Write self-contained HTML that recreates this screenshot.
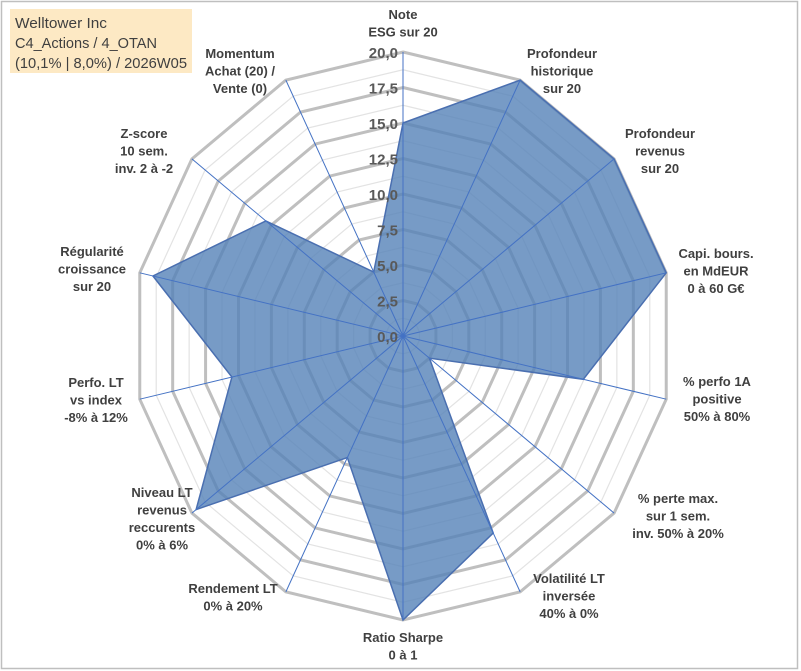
<!DOCTYPE html>
<html><head><meta charset="utf-8"><style>
body{margin:0;background:#fff}
svg{display:block}
text{font-family:"Liberation Sans",sans-serif}
</style></head><body>
<svg id="c" width="801" height="671">
<rect x="1.5" y="1.5" width="796" height="667" fill="#fff" stroke="#bfbfbf" stroke-width="1.5"/>
<g id="grid"></g>
<g id="series"></g>
<g id="spokes"></g>
<g id="ticks"></g>
<g id="labels"></g>
<g>
<rect x="10" y="9" width="182" height="64" fill="#fde9c4"/>
<text x="15" y="28" font-size="15" fill="#404040" textLength="92" lengthAdjust="spacingAndGlyphs">Welltower Inc</text>
<text x="15" y="48" font-size="15" fill="#404040" textLength="142" lengthAdjust="spacingAndGlyphs">C4_Actions / 4_OTAN</text>
<text x="15" y="68" font-size="15" fill="#404040" textLength="172" lengthAdjust="spacingAndGlyphs">(10,1% | 8,0%) / 2026W05</text>
</g>
</svg>
<script>
const categories=[["Note","ESG sur 20"],["Profondeur","historique","sur 20"],["Profondeur","revenus","sur 20"],["Capi. bours.","en MdEUR","0 à 60 G€"],["% perfo 1A","positive","50% à 80%"],["% perte max.","sur 1 sem.","inv. 50% à 20%"],["Volatilité LT","inversée","40% à 0%"],["Ratio Sharpe","0 à 1"],["Rendement LT","0% à 20%"],["Niveau LT","revenus","reccurents","0% à 6%"],["Perfo. LT","vs index","-8% à 12%"],["Régularité","croissance","sur 20"],["Z-score","10 sem.","inv. 2 à -2"],["Momentum","Achat (20) /","Vente (0)"]];
const values=[15,20,20,20,13.7,2.5,15.4,20,9.5,19.6,13,19,13,5];
const tickLabels=["0,0","2,5","5,0","7,5","10,0","12,5","15,0","17,5","20,0"];
const maxVal=20;
const cx=403,cy=336,Rx=270,Ry=284,N=categories.length;
const NS="http://www.w3.org/2000/svg";
function ang(i){return i*2*Math.PI/N;}
function pt(i,v){const f=v/maxVal;return [cx+f*Rx*Math.sin(ang(i)),cy-f*Ry*Math.cos(ang(i))];}
function mk(tag,attrs,parent){const e=document.createElementNS(NS,tag);for(const k in attrs)e.setAttribute(k,attrs[k]);parent.appendChild(e);return e;}
const grid=document.getElementById('grid');
for(let k=1;k<=16;k++){const v=k*maxVal/16;const pts=[];for(let i=0;i<N;i++)pts.push(pt(i,v).join(','));
const major=k%2==0;
const p=mk('polygon',{points:pts.join(' '),fill:'none',stroke:major?'#bfbfbf':'#e3e3e3','stroke-width':major?3:1.2},grid);

}
const ser=document.getElementById('series');
const sp=values.map((v,i)=>pt(i,v).join(',')).join(' ');
const poly=mk('polygon',{points:sp,fill:'#5582b8','fill-opacity':0.8,stroke:'#4a6fb0','stroke-width':1.5},ser);


const spokes=document.getElementById('spokes');
for(let i=0;i<N;i++){const e=pt(i,maxVal);
const l=mk('line',{x1:cx,y1:cy,x2:e[0],y2:e[1],stroke:'#4472c4','stroke-width':1},spokes);

}
const ticks=document.getElementById('ticks');
tickLabels.forEach((t,k)=>{const v=k*maxVal/(tickLabels.length-1);const p=pt(0,v);
const tx=mk('text',{x:p[0]-5,y:p[1]+6,'text-anchor':'end','font-size':15,'font-weight':'bold',fill:'#595959'},ticks);
tx.textContent=t;

});
const labelPos=[[403,14],[562,53],[660,133],[716,253],[717,381],[678,498],[569,578],[403,637],[233,588],[162,492],[96,382],[92,251],[144,133],[240,53]];
const labels=document.getElementById('labels');
categories.forEach((lines,i)=>{const [x,y]=labelPos[i];
const t=mk('text',{x:x,'text-anchor':'middle','font-size':13,'font-weight':'bold',fill:'#404040'},labels);


lines.forEach((s,j)=>{const ts=mk('tspan',{x:x,y:y+5+j*17.5},t);ts.textContent=s;});});
</script>
</body></html>
